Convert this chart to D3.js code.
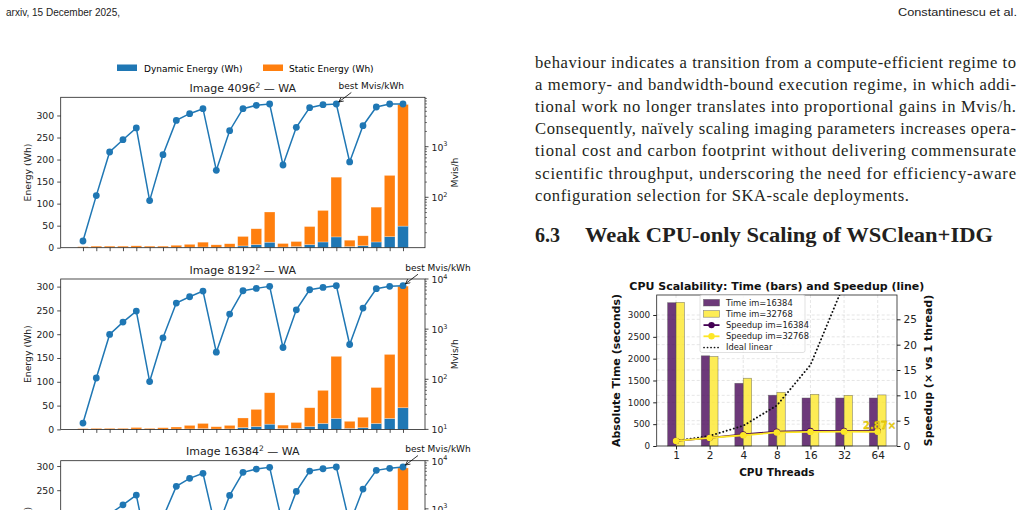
<!DOCTYPE html>
<html>
<head>
<meta charset="utf-8">
<script src="https://cdn.jsdelivr.net/npm/d3@7"></script>
<style>
  body { margin: 0; background: #fff; }
  svg { display: block; }
</style>
</head>
<body>
<svg id="page" width="1024" height="510"></svg>
<script>
// ---- energy figure data (25 configs per image size) ----
const configs = d3.range(25);

const dyn4096 = [0.4, 0.5, 0.5, 0.6, 0.7, 0.5, 0.6, 0.8, 1, 1.5, 0.8, 1.2, 4, 7, 12.5, 1.5, 2.5, 7, 13, 24.5, 2.5, 4.5, 13, 25, 49];
const stat4096 = [1.9, 3.0, 3.0, 2.9, 3.5, 3.0, 2.9, 4.7, 6.6, 11.0, 5.7, 7.8, 21.5, 36, 68.5, 8, 11.5, 41, 71.5, 135.5, 14.5, 22.5, 79, 139, 276];
const mvis4096 = [13.7, 108, 785, 1375, 2345, 86, 695, 3310, 4490, 5630, 342, 2070, 5630, 6580, 6980, 435, 2415, 5900, 6760, 6980, 499, 2600, 6090, 6980, 6980];

const dyn8192 = [0.3, 0.4, 0.4, 0.4, 0.6, 0.4, 0.5, 0.7, 1, 1.5, 0.7, 1.1, 3.8, 6, 11, 1.5, 2.2, 6, 12.5, 23, 2, 3.5, 12.5, 23, 45.5];
const stat8192 = [1.3, 1.8, 1.8, 1.8, 3.4, 1.8, 3.0, 4.3, 7.4, 11.0, 4.9, 7.3, 20.2, 36, 66, 7.5, 12.3, 39.5, 69.5, 130.5, 15, 22, 75.5, 134.5, 255.5];
const mvis8192 = [13.4, 106, 783, 1380, 2290, 90, 670, 3310, 4430, 5750, 347, 2000, 5830, 6500, 7130, 430, 2430, 6110, 6800, 7350, 494, 2630, 6400, 7130, 7350];

const dyn16384 = [0.3, 0.4, 0.4, 0.4, 0.6, 0.4, 0.5, 0.7, 1, 1.5, 0.7, 1.1, 3.7, 6, 11, 1.5, 2.2, 6, 12.3, 22.5, 2, 3.5, 12.3, 22.5, 45];
const stat16384 = [1.4, 1.9, 1.9, 1.9, 3.4, 1.9, 3.0, 4.3, 7.5, 11.0, 5.1, 7.4, 20.3, 36, 65, 7.7, 12.3, 39, 68.7, 128.5, 15, 22, 74.7, 132.5, 251];
const mvis16384 = [13, 105, 780, 1210, 1930, 88, 660, 2930, 4300, 5460, 345, 1900, 5730, 6710, 7280, 430, 2300, 6100, 6810, 7390, 490, 2570, 6310, 6950, 7390];

const energyTicks = [0, 50, 100, 150, 200, 250, 300];

// ---- CPU scaling figure data ----
const threads = ["1", "2", "4", "8", "16", "32", "64"];
const time16384 = [3281, 2065, 1436, 1163, 1099, 1099, 1099];
const time32768 = [3290, 2050, 1552, 1230, 1184, 1161, 1170];
const speedup16384 = [1, 1.59, 2.28, 2.82, 2.99, 2.99, 2.99];
const speedup32768 = [1, 1.6, 2.12, 2.67, 2.78, 2.83, 2.81];
const idealLinear = [1, 2, 4, 8, 16, 32, 64];
const timeTicks = [0, 500, 1000, 1500, 2000, 2500, 3000];
const speedTicks = [0, 5, 10, 15, 20, 25];

// ---- page text ----
const paragraph = [
  "behaviour indicates a transition from a compute-efficient regime to",
  "a memory- and bandwidth-bound execution regime, in which addi-",
  "tional work no longer translates into proportional gains in Mvis/h.",
  "Consequently, naïvely scaling imaging parameters increases opera-",
  "tional cost and carbon footprint without delivering commensurate",
  "scientific throughput, underscoring the need for efficiency-aware",
  "configuration selection for SKA-scale deployments."
];

const BLUE = "#1f77b4", ORANGE = "#ff7f0e";
const SANS = "DejaVu Sans, sans-serif";
const SERIF = "Liberation Serif, DejaVu Serif, serif";

const svg = d3.select("#page");
svg.append("rect").attr("width", 1024).attr("height", 510).attr("fill", "#fff");

const defs = svg.append("defs");
defs.append("marker")
  .attr("id", "arrowhead")
  .attr("viewBox", "0 0 10 10")
  .attr("refX", 9).attr("refY", 5)
  .attr("markerWidth", 7).attr("markerHeight", 7)
  .attr("orient", "auto")
  .append("path")
  .attr("d", "M1,1 L9,5 L1,9")
  .attr("fill", "none")
  .attr("stroke", "#000")
  .attr("stroke-width", 1.3);

// ---- header ----
svg.append("text")
  .attr("x", 6).attr("y", 16)
  .attr("font-family", "Liberation Sans, sans-serif")
  .attr("font-size", 10.5)
  .attr("textLength", 114).attr("lengthAdjust", "spacingAndGlyphs")
  .attr("fill", "#222")
  .text("arxiv, 15 December 2025,");
svg.append("text")
  .attr("x", 898).attr("y", 16)
  .attr("font-family", "Liberation Sans, sans-serif")
  .attr("font-size", 10.5)
  .attr("textLength", 119).attr("lengthAdjust", "spacingAndGlyphs")
  .attr("fill", "#222")
  .text("Constantinescu et al.");

// ---- paragraph ----
const lineY = d3.range(paragraph.length).map((i) => 67.5 + i * 22.2);
svg.append("g")
  .selectAll("text")
  .data(paragraph)
  .join("text")
  .attr("x", 535)
  .attr("y", (_, i) => lineY[i])
  .attr("font-family", SERIF)
  .attr("font-size", 16.6)
  .attr("fill", "#231f20")
  .attr("textLength", (_, i) => (i === paragraph.length - 1 ? 374 : 481))
  .attr("lengthAdjust", "spacing")
  .text((d) => d);

svg.append("text")
  .attr("x", 535).attr("y", 242)
  .attr("font-family", SERIF).attr("font-weight", "bold")
  .attr("font-size", 20).attr("fill", "#231f20")
  .text("6.3");
svg.append("text")
  .attr("x", 585).attr("y", 242)
  .attr("font-family", SERIF).attr("font-weight", "bold")
  .attr("font-size", 20).attr("fill", "#231f20")
  .attr("textLength", 408).attr("lengthAdjust", "spacingAndGlyphs")
  .text("Weak CPU-only Scaling of WSClean+IDG");

// ---- energy figure ----
const X0 = 60.7, X1 = 425, PH = 150.4;
const xE = d3.scaleLinear().domain([-1.67, 25.65]).range([X0, X1]);
const barW = xE(0.8) - xE(0);

// legend
const leg = svg.append("g").attr("font-family", SANS).attr("font-size", 9);
leg.append("rect").attr("x", 117).attr("y", 64.5).attr("width", 20).attr("height", 6.5).attr("fill", BLUE);
leg.append("text").attr("x", 144).attr("y", 71.5).text("Dynamic Energy (Wh)");
leg.append("rect").attr("x", 263).attr("y", 64.5).attr("width", 20).attr("height", 6.5).attr("fill", ORANGE);
leg.append("text").attr("x", 289).attr("y", 71.5).text("Static Energy (Wh)");

const panels = [
  { title: "Image 4096", top: 97.3, eMax: 341.25, logDomain: [10.1, 9460], dyn: dyn4096, stat: stat4096, mvis: mvis4096, best: 19 },
  { title: "Image 8192", top: 279, eMax: 316, logDomain: [10, 10000], dyn: dyn8192, stat: stat8192, mvis: mvis8192, best: 24 },
  { title: "Image 16384", top: 460.7, eMax: 311, logDomain: [7.5, 10000], dyn: dyn16384, stat: stat16384, mvis: mvis16384, best: 24 }
];

panels.forEach(drawPanel);

function drawPanel(p) {
  const top = p.top, bottom = p.top + PH;
  const g = svg.append("g").attr("font-family", SANS);
  const yE = d3.scaleLinear().domain([0, p.eMax]).range([bottom, top]);
  const yM = d3.scaleLog().domain(p.logDomain).range([bottom, top]);

  // stacked bars
  const rows = configs.map((i) => ({ i, dynamic: p.dyn[i], static: p.stat[i] }));
  const series = d3.stack().keys(["dynamic", "static"])(rows);
  g.append("g")
    .selectAll("g")
    .data(series)
    .join("g")
    .attr("fill", (d) => (d.key === "dynamic" ? BLUE : ORANGE))
    .selectAll("rect")
    .data((d) => d)
    .join("rect")
    .attr("x", (d) => xE(d.data.i) - barW / 2)
    .attr("width", barW)
    .attr("y", (d) => yE(d[1]))
    .attr("height", (d) => yE(d[0]) - yE(d[1]))
    .attr("stroke", "#fff")
    .attr("stroke-opacity", 0.45)
    .attr("stroke-width", 0.6);

  // Mvis/h line
  const line = d3.line().x((d, i) => xE(i)).y((d) => yM(d));
  g.append("path")
    .attr("d", line(p.mvis))
    .attr("fill", "none")
    .attr("stroke", BLUE)
    .attr("stroke-width", 1.5);
  g.append("g")
    .selectAll("circle")
    .data(p.mvis)
    .join("circle")
    .attr("cx", (d, i) => xE(i))
    .attr("cy", (d) => yM(d))
    .attr("r", 3.4)
    .attr("fill", BLUE);

  // frame
  g.append("rect")
    .attr("x", X0).attr("y", top)
    .attr("width", X1 - X0).attr("height", PH)
    .attr("fill", "none").attr("stroke", "#222").attr("stroke-width", 0.8);

  // left axis
  const axL = g.append("g")
    .attr("transform", `translate(${X0},0)`)
    .call(d3.axisLeft(yE).tickValues(energyTicks).tickSize(3.5).tickPadding(3));
  axL.select(".domain").remove();
  axL.selectAll("text").attr("font-family", SANS).attr("font-size", 9.3).attr("fill", "#222");
  axL.selectAll("line").attr("stroke", "#222").attr("stroke-width", 0.8);

  // bottom ticks (no labels)
  const axB = g.append("g")
    .attr("transform", `translate(0,${bottom})`)
    .call(d3.axisBottom(xE).tickValues(configs).tickSize(3.5).tickFormat(""));
  axB.select(".domain").remove();
  axB.selectAll("line").attr("stroke", "#222").attr("stroke-width", 0.8);

  // right log axis
  const [lo, hi] = p.logDomain;
  const minor = [];
  for (let e = 0; e <= 4; e++) {
    for (let m = 2; m <= 9; m++) {
      const v = m * Math.pow(10, e);
      if (v >= lo && v <= hi) minor.push(v);
    }
  }
  const major = [10, 100, 1000, 10000].filter((v) => v >= lo * 0.999 && v <= hi * 1.001);
  const gr = g.append("g").attr("transform", `translate(${X1},0)`);
  gr.selectAll("line.minor")
    .data(minor)
    .join("line")
    .attr("class", "minor")
    .attr("x1", 0).attr("x2", 2)
    .attr("y1", (d) => yM(d)).attr("y2", (d) => yM(d))
    .attr("stroke", "#222").attr("stroke-width", 0.6);
  gr.selectAll("line.major")
    .data(major)
    .join("line")
    .attr("class", "major")
    .attr("x1", 0).attr("x2", 3.5)
    .attr("y1", (d) => yM(d)).attr("y2", (d) => yM(d))
    .attr("stroke", "#222").attr("stroke-width", 0.8);
  const lbl = gr.selectAll("text.major")
    .data(major)
    .join("text")
    .attr("class", "major")
    .attr("x", 6.5)
    .attr("y", (d) => yM(d) + 4)
    .attr("font-size", 9.3)
    .attr("fill", "#222");
  lbl.append("tspan").text("10");
  lbl.append("tspan")
    .attr("dy", -4.5)
    .attr("font-size", 6.5)
    .text((d) => Math.round(Math.log10(d)));

  // axis labels
  g.append("text")
    .attr("transform", `translate(31,${(top + bottom) / 2}) rotate(-90)`)
    .attr("text-anchor", "middle")
    .attr("font-size", 9.3).attr("fill", "#222")
    .text("Energy (Wh)");
  g.append("text")
    .attr("transform", `translate(458,${(top + bottom) / 2}) rotate(-90)`)
    .attr("text-anchor", "middle")
    .attr("font-size", 9.3).attr("fill", "#222")
    .text("Mvis/h");

  // title
  const t = g.append("text")
    .attr("x", (X0 + X1) / 2).attr("y", top - 5.5)
    .attr("text-anchor", "middle")
    .attr("font-size", 11).attr("fill", "#222");
  t.append("tspan").text(p.title);
  t.append("tspan").attr("dy", -4).attr("font-size", 7.5).text("2");
  t.append("tspan").attr("dy", 4).text(" — WA");

  // best annotation
  const bx = xE(p.best), by = yM(p.mvis[p.best]);
  g.append("text")
    .attr("x", bx + 35).attr("y", by - 15)
    .attr("text-anchor", "middle")
    .attr("font-size", 9).attr("fill", "#111")
    .text("best Mvis/kWh");
  g.append("line")
    .attr("x1", bx + 15).attr("y1", by - 11.5)
    .attr("x2", bx + 2.5).attr("y2", by - 2)
    .attr("stroke", "#000").attr("stroke-width", 0.8)
    .attr("marker-end", "url(#arrowhead)");
}

// ---- CPU scaling figure ----
const C = { left: 656.7, right: 897, top: 295, bottom: 446 };
const cx = d3.scaleLinear().domain([-0.575, 6.575]).range([C.left, C.right]);
const cyL = d3.scaleLinear().domain([0, 3458]).range([C.bottom, C.top]);
const cyR = d3.scaleLinear().domain([0, 29.8]).range([C.bottom, C.top]);
const cbw = cx(0.25) - cx(0);
const PURPLE = "#440154", YELLOW = "#fde725";

const cg = svg.append("g").attr("font-family", SANS);
defs.append("clipPath").attr("id", "cpuClip")
  .append("rect")
  .attr("x", C.left).attr("y", C.top)
  .attr("width", C.right - C.left).attr("height", C.bottom - C.top);

// grid
const grid = cg.append("g")
  .attr("stroke", "#b0b0b0").attr("stroke-opacity", 0.45)
  .attr("stroke-width", 0.7).attr("stroke-dasharray", "3,2");
grid.selectAll("line.gx").data(threads).join("line").attr("class", "gx")
  .attr("x1", (d, i) => cx(i)).attr("x2", (d, i) => cx(i))
  .attr("y1", C.top).attr("y2", C.bottom);
grid.selectAll("line.gl").data(timeTicks.slice(1)).join("line").attr("class", "gl")
  .attr("x1", C.left).attr("x2", C.right)
  .attr("y1", (d) => cyL(d)).attr("y2", (d) => cyL(d));
grid.selectAll("line.gr").data(speedTicks.slice(1)).join("line").attr("class", "gr")
  .attr("x1", C.left).attr("x2", C.right)
  .attr("y1", (d) => cyR(d)).attr("y2", (d) => cyR(d));

// bars
const timeSeries = [
  { key: "Time im=16384", values: time16384, offset: -1, color: PURPLE },
  { key: "Time im=32768", values: time32768, offset: 0, color: YELLOW }
];
cg.append("g")
  .selectAll("g")
  .data(timeSeries)
  .join("g")
  .attr("fill", (d) => d.color)
  .attr("fill-opacity", 0.78)
  .selectAll("rect")
  .data((d) => d.values.map((v, i) => ({ v, i, offset: d.offset })))
  .join("rect")
  .attr("x", (d) => cx(d.i) + d.offset * cbw)
  .attr("width", cbw)
  .attr("y", (d) => cyL(d.v))
  .attr("height", (d) => cyL(0) - cyL(d.v))
  .attr("stroke", "#555")
  .attr("stroke-opacity", 0.7)
  .attr("stroke-width", 0.6);

// ideal linear
const cline = (ys) => d3.line().x((d, i) => cx(i)).y((d) => cyR(d))(ys);
cg.append("path")
  .attr("clip-path", "url(#cpuClip)")
  .attr("d", cline(idealLinear))
  .attr("fill", "none")
  .attr("stroke", "#111")
  .attr("stroke-width", 1.9)
  .attr("stroke-dasharray", "0.1,3.6")
  .attr("stroke-linecap", "round");

// speedup lines
const speedSeries = [
  { key: "Speedup im=16384", values: speedup16384, color: PURPLE },
  { key: "Speedup im=32768", values: speedup32768, color: YELLOW }
];
speedSeries.forEach((s) => {
  cg.append("path")
    .attr("d", cline(s.values))
    .attr("fill", "none")
    .attr("stroke", s.color)
    .attr("stroke-width", 1.8);
  cg.append("g")
    .selectAll("circle")
    .data(s.values)
    .join("circle")
    .attr("cx", (d, i) => cx(i))
    .attr("cy", (d) => cyR(d))
    .attr("r", 3.2)
    .attr("fill", s.color);
});

// speedup annotation
cg.append("text")
  .attr("x", 863).attr("y", 429)
  .attr("font-size", 10).attr("font-weight", "bold")
  .attr("fill", "#f4d90f")
  .attr("stroke", "#b89a00").attr("stroke-width", 0.3)
  .text("2.87×");

// frame
cg.append("rect")
  .attr("x", C.left).attr("y", C.top)
  .attr("width", C.right - C.left).attr("height", C.bottom - C.top)
  .attr("fill", "none").attr("stroke", "#222").attr("stroke-width", 0.8);

// axes
const caL = cg.append("g").attr("transform", `translate(${C.left},0)`)
  .call(d3.axisLeft(cyL).tickValues(timeTicks).tickFormat(d3.format("d")).tickSize(3.5).tickPadding(3));
caL.select(".domain").remove();
caL.selectAll("text").attr("font-family", SANS).attr("font-size", 8.8).attr("fill", "#222");
caL.selectAll("line").attr("stroke", "#222");

const caR = cg.append("g").attr("transform", `translate(${C.right},0)`)
  .call(d3.axisRight(cyR).tickValues(speedTicks).tickFormat(d3.format("d")).tickSize(3.5).tickPadding(3));
caR.select(".domain").remove();
caR.selectAll("text").attr("font-family", SANS).attr("font-size", 10.5).attr("fill", "#222");
caR.selectAll("line").attr("stroke", "#222");

const caB = cg.append("g").attr("transform", `translate(0,${C.bottom})`)
  .call(d3.axisBottom(cx).tickValues(d3.range(threads.length)).tickFormat((i) => threads[i]).tickSize(3.5).tickPadding(2));
caB.select(".domain").remove();
caB.selectAll("text").attr("font-family", SANS).attr("font-size", 10.5).attr("fill", "#222");
caB.selectAll("line").attr("stroke", "#222");

// labels
cg.append("text")
  .attr("x", (C.left + C.right) / 2).attr("y", 290)
  .attr("text-anchor", "middle")
  .attr("font-size", 11).attr("font-weight", "bold").attr("fill", "#111")
  .text("CPU Scalability: Time (bars) and Speedup (line)");
cg.append("text")
  .attr("x", (C.left + C.right) / 2).attr("y", 475.5)
  .attr("text-anchor", "middle")
  .attr("font-size", 10.5).attr("font-weight", "bold").attr("fill", "#111")
  .text("CPU Threads");
cg.append("text")
  .attr("transform", `translate(620,${(C.top + C.bottom) / 2}) rotate(-90)`)
  .attr("text-anchor", "middle")
  .attr("font-size", 11).attr("font-weight", "bold").attr("fill", "#111")
  .text("Absolute Time (seconds)");
cg.append("text")
  .attr("transform", `translate(932,${(C.top + C.bottom) / 2}) rotate(-90)`)
  .attr("text-anchor", "middle")
  .attr("font-size", 11).attr("font-weight", "bold").attr("fill", "#111")
  .text("Speedup (× vs 1 thread)");

// legend
const lg = cg.append("g").attr("transform", "translate(700,295)");
lg.append("rect")
  .attr("width", 105).attr("height", 57.5).attr("rx", 2)
  .attr("fill", "#fff").attr("fill-opacity", 0.8)
  .attr("stroke", "#ccc").attr("stroke-width", 0.6);
const legItems = [
  { label: timeSeries[0].key, type: "bar", color: PURPLE },
  { label: timeSeries[1].key, type: "bar", color: YELLOW },
  { label: speedSeries[0].key, type: "line", color: PURPLE },
  { label: speedSeries[1].key, type: "line", color: YELLOW },
  { label: "Ideal linear", type: "dots", color: "#111" }
];
const li = lg.selectAll("g.item")
  .data(legItems)
  .join("g")
  .attr("class", "item")
  .attr("transform", (d, i) => `translate(0,${7.7 + i * 11.2})`);
li.filter((d) => d.type === "bar")
  .append("rect")
  .attr("x", 3.5).attr("y", -3.3).attr("width", 16).attr("height", 6.6)
  .attr("fill", (d) => d.color).attr("fill-opacity", 0.78)
  .attr("stroke", "#555").attr("stroke-opacity", 0.7).attr("stroke-width", 0.6);
li.filter((d) => d.type === "line")
  .append("line")
  .attr("x1", 3.5).attr("x2", 19.5)
  .attr("stroke", (d) => d.color).attr("stroke-width", 1.8);
li.filter((d) => d.type === "line")
  .append("circle")
  .attr("cx", 11.5).attr("r", 3.2)
  .attr("fill", (d) => d.color);
li.filter((d) => d.type === "dots")
  .append("line")
  .attr("x1", 4).attr("x2", 19.5)
  .attr("stroke", "#111").attr("stroke-width", 1.7)
  .attr("stroke-dasharray", "0.1,3.4").attr("stroke-linecap", "round");
li.append("text")
  .attr("x", 26).attr("y", 2.8)
  .attr("font-size", 8.3).attr("fill", "#222")
  .text((d) => d.label);
</script>
</body>
</html>
